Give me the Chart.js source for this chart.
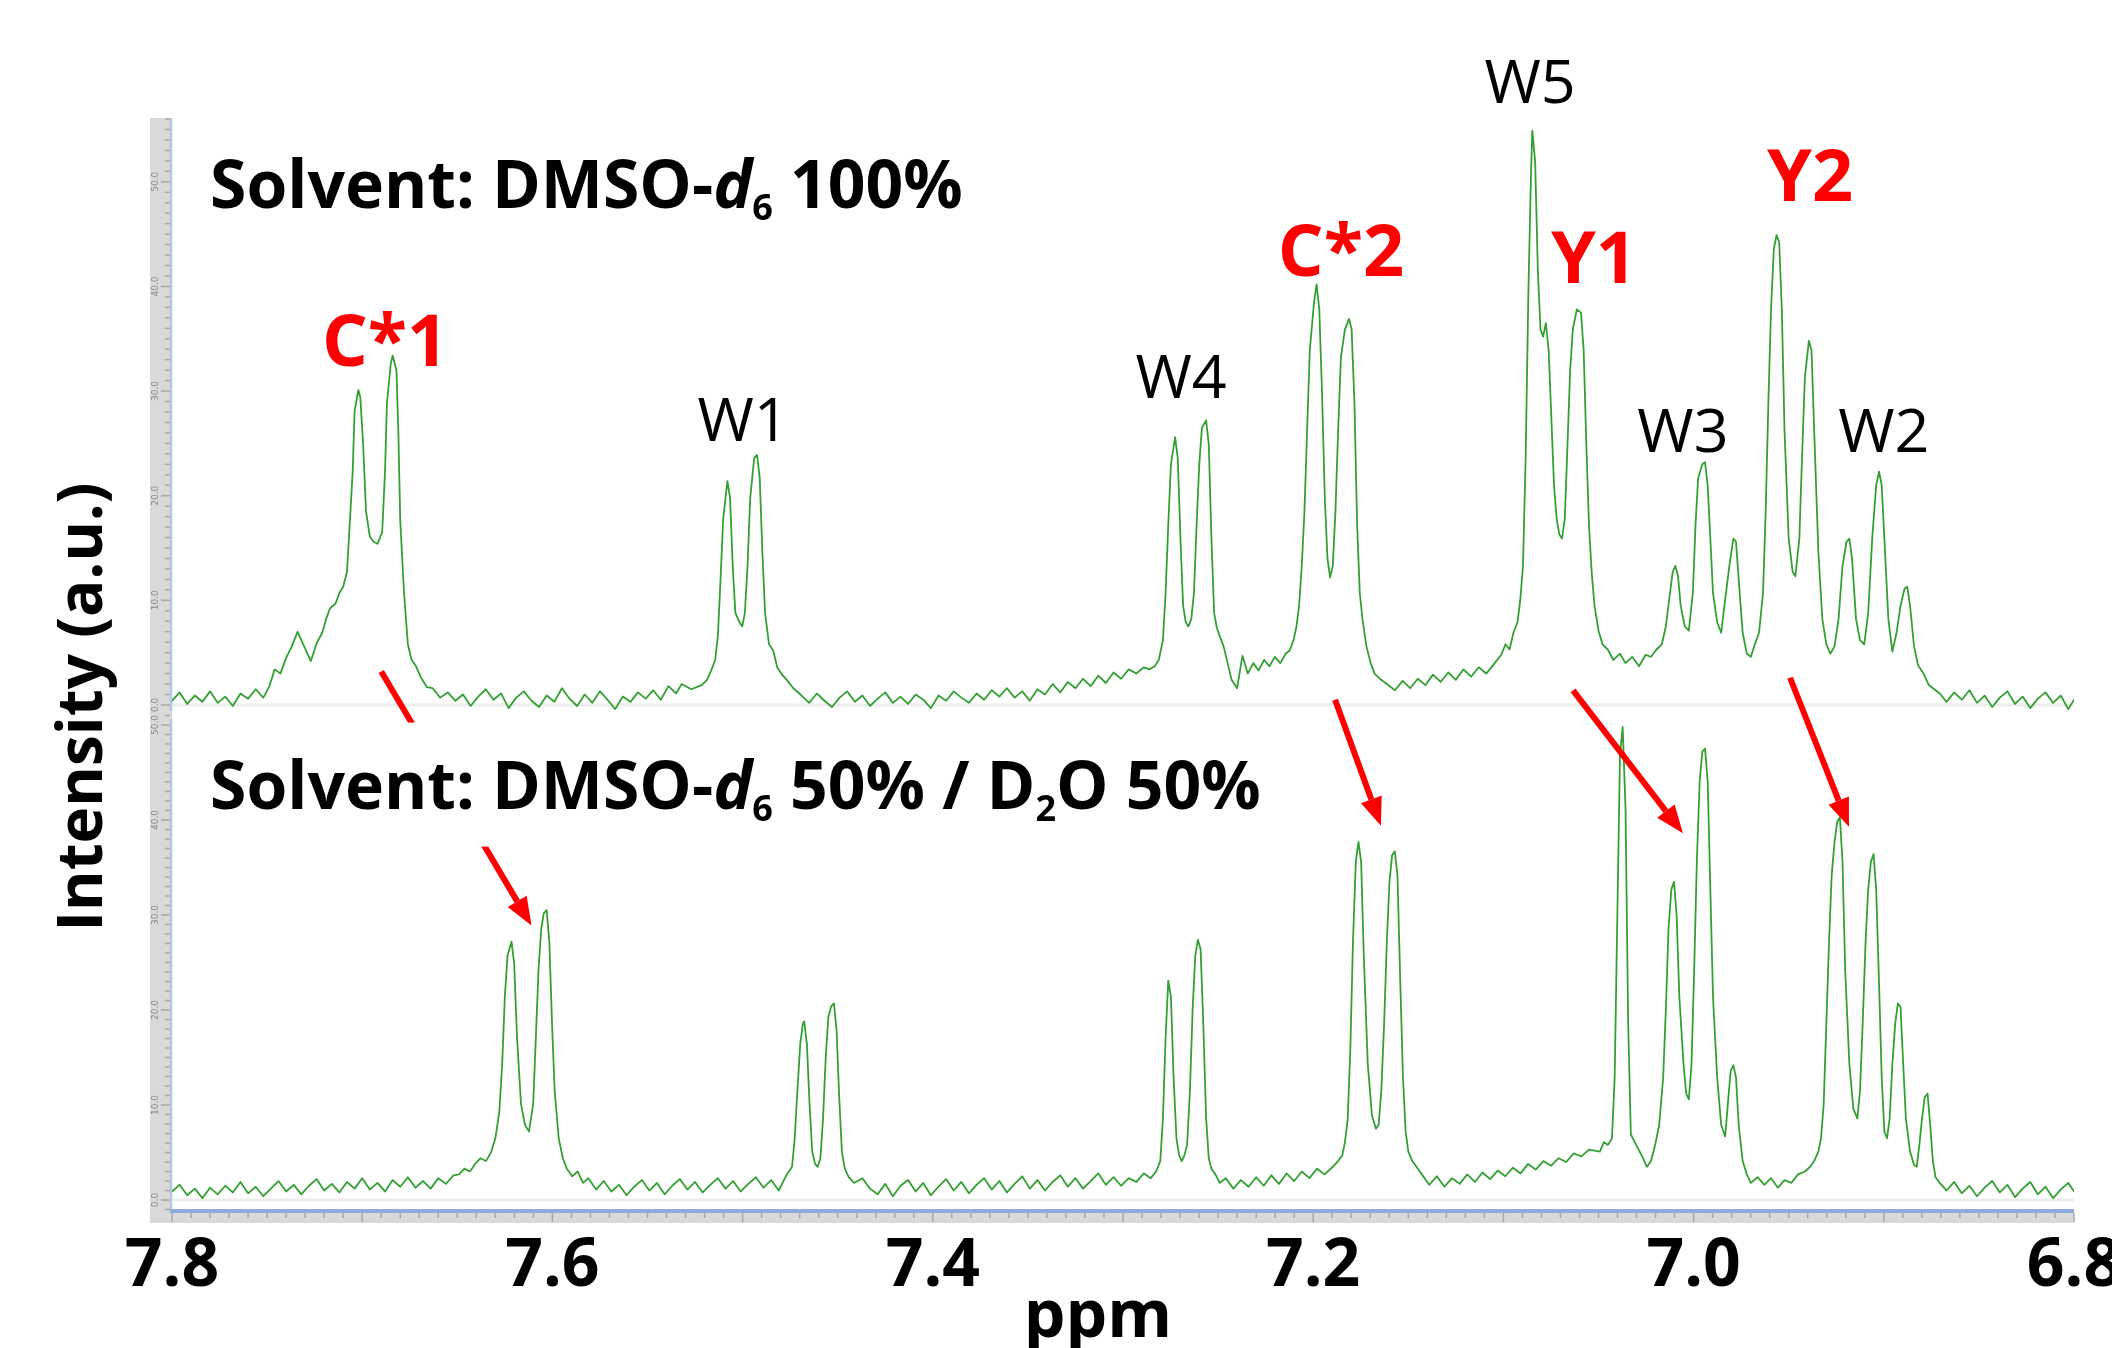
<!DOCTYPE html>
<html>
<head>
<meta charset="utf-8">
<title>NMR aromatic region</title>
<script src="https://cdn.jsdelivr.net/npm/chart.js@4.4.1/dist/chart.umd.min.js"></script>
<style>
  html, body { margin: 0; padding: 0; background: #fff; }
  canvas { display: block; }
</style>
</head>
<body>
<canvas id="nmrChart" width="2112" height="1348"></canvas>
<script>
// [chemical shift (ppm), intensity (a.u.)]
const upperSpectrum = [
  [7.800,0.4],[7.796,1.2],[7.792,0.1],[7.788,0.9],[7.784,0.3],[7.780,1.3],[7.776,0.2],[7.772,0.8],[7.768,-0.1],[7.764,1.1],[7.760,0.6],[7.756,1.5],[7.752,0.7],
  [7.749,1.7],[7.746,3.4],[7.743,3.0],[7.740,4.5],[7.737,5.6],[7.734,7.0],[7.731,5.8],[7.727,4.2],[7.725,5.3],[7.724,5.9],[7.721,6.9],[7.719,8.2],[7.717,9.2],[7.714,9.7],[7.712,10.7],[7.710,11.3],[7.708,12.7],
  [7.707,15.9],[7.705,22.3],[7.704,28.1],[7.702,30.1],[7.701,29.4],[7.6995,24.9],[7.698,18.5],[7.696,16.1],[7.694,15.6],[7.692,15.4],[7.6895,16.5],[7.688,22.3],[7.687,28.8],[7.685,32.6],[7.684,33.4],[7.682,32.0],[7.681,26.2],[7.680,17.6],[7.678,10.7],[7.676,5.8],[7.674,4.3],[7.672,3.8],[7.669,2.6],[7.666,1.7],[7.663,1.6],[7.659,0.7],
  [7.655,1.2],[7.651,0.4],[7.647,1.0],[7.643,-0.1],[7.639,0.8],[7.635,1.5],[7.631,0.5],[7.627,1.1],[7.623,-0.3],[7.619,0.7],[7.615,1.3],[7.611,0.4],[7.607,-0.2],[7.603,0.9],[7.599,0.3],[7.595,1.6],[7.591,0.6],[7.587,-0.1],[7.583,1.0],[7.579,0.2],[7.575,1.3],[7.571,0.5],[7.567,-0.4],[7.563,0.8],[7.559,0.3],[7.555,1.2],[7.551,0.6],[7.547,1.4],[7.543,0.5],[7.539,1.8],[7.535,1.1],[7.532,2.0],[7.527,1.5],
  [7.5215,1.9],[7.5187,2.4],[7.5165,3.3],[7.5144,4.3],[7.5130,6.6],[7.5116,12.0],[7.5102,17.8],[7.5080,21.4],[7.5066,19.8],[7.5052,13.3],[7.5038,8.8],[7.5016,7.9],[7.5002,7.5],[7.4988,8.8],[7.4974,13.3],[7.4960,19.8],[7.4939,23.6],[7.4924,23.9],[7.4910,21.7],[7.4896,14.6],[7.4882,8.8],[7.4861,5.8],[7.4839,5.2],[7.4818,3.6],[7.4797,3.0],[7.4768,2.4],[7.4733,1.6],
  [7.469,0.9],[7.465,0.2],[7.461,1.1],[7.457,0.4],[7.453,-0.2],[7.449,0.7],[7.445,1.3],[7.441,0.3],[7.437,0.9],[7.433,-0.1],[7.429,0.6],[7.425,1.2],[7.421,0.2],[7.417,0.8],[7.413,0.1],[7.409,1.0],[7.405,0.5],[7.401,-0.3],[7.397,0.9],[7.393,0.4],[7.389,1.3],[7.385,0.7],[7.381,0.2],[7.377,1.1],[7.373,0.5],[7.369,1.4],[7.365,0.8],[7.361,1.6],[7.357,0.7],[7.353,1.3],[7.349,0.4],[7.345,1.5],[7.341,1.0],[7.337,2.0],[7.333,1.2],[7.329,2.2],[7.325,1.6],[7.321,2.5],[7.317,1.8],[7.313,2.8],[7.309,2.1],[7.305,3.1],[7.301,2.5],[7.297,3.4],[7.293,3.0],[7.289,3.6],
  [7.2861,3.4],[7.2833,3.7],[7.2812,4.3],[7.2790,6.2],[7.2776,10.7],[7.2762,17.2],[7.2748,23.0],[7.2726,25.6],[7.2712,23.6],[7.2698,15.9],[7.2684,9.5],[7.2670,7.9],[7.2656,7.5],[7.2641,8.2],[7.2627,10.7],[7.2613,17.2],[7.2599,23.0],[7.2585,26.5],[7.2563,27.2],[7.2549,24.9],[7.2535,15.9],[7.2521,8.8],[7.2507,7.4],[7.2492,6.6],[7.2471,5.6],[7.2450,4.0],[7.2429,2.4],[7.2400,1.6],[7.2372,4.7],[7.2344,3.0],[7.2315,4.0],[7.2287,3.3],[7.2258,4.3],[7.2230,3.7],[7.2202,4.6],[7.2173,4.0],[7.2145,4.9],[7.2124,5.2],[7.2103,6.2],[7.2088,7.5],[7.2074,9.5],[7.2060,13.3],[7.2046,18.5],[7.2032,26.2],[7.2018,33.9],[7.1996,38.4],[7.1982,40.2],[7.1968,37.8],[7.1954,30.1],[7.1939,19.8],[7.1925,14.0],[7.1911,12.2],[7.1897,13.3],[7.1883,18.5],[7.1869,26.2],[7.1854,33.3],[7.1833,35.9],[7.1812,36.9],[7.1798,35.9],[7.1783,28.8],[7.1769,17.2],[7.1755,10.7],[7.1741,8.2],[7.1720,5.6],[7.1698,4.0],[7.1677,3.0],[7.1649,2.5],[7.1613,2.0],
  [7.157,1.4],[7.153,2.3],[7.149,1.6],[7.145,2.5],[7.141,1.9],[7.137,2.9],[7.133,2.2],[7.129,3.1],[7.125,2.4],[7.121,3.4],[7.117,2.7],[7.113,3.6],[7.109,3.0],[7.105,3.9],
  [7.1011,4.8],[7.0989,5.8],[7.0968,5.3],[7.0947,6.9],[7.0926,7.9],[7.0911,10.1],[7.0897,13.3],[7.0883,23.6],[7.0869,39.1],[7.0855,50.7],[7.0848,54.9],[7.0833,51.9],[7.0819,41.6],[7.0805,35.9],[7.0791,35.2],[7.0777,36.5],[7.0762,33.9],[7.0748,27.5],[7.0734,21.0],[7.0720,17.8],[7.0706,16.3],[7.0692,15.9],[7.0677,17.8],[7.0663,24.9],[7.0649,32.0],[7.0635,35.9],[7.0614,37.8],[7.0592,37.5],[7.0578,33.9],[7.0564,24.9],[7.0550,17.2],[7.0536,12.7],[7.0521,9.5],[7.0500,7.1],[7.0479,5.8],[7.0451,5.3],[7.0422,4.3],[7.0387,4.9],[7.0358,4.0],[7.0323,4.6],[7.0287,3.7],[7.0252,4.8],[7.0224,4.6],[7.0195,5.3],[7.0167,5.8],
  [7.0146,7.5],[7.0124,10.7],[7.0110,12.7],[7.0096,13.3],[7.0082,12.3],[7.0068,9.5],[7.0046,7.5],[7.0025,7.1],[7.0004,10.7],[6.9990,17.2],[6.9976,21.7],[6.9954,23.0],[6.9940,23.2],[6.9926,21.0],[6.9912,15.9],[6.9898,10.7],[6.9876,7.9],[6.9855,6.9],[6.9834,10.1],[6.9812,13.3],[6.9791,15.9],[6.9777,15.6],[6.9763,12.0],[6.9742,6.9],[6.9720,4.9],[6.9699,4.6],[6.9678,5.8],[6.9656,6.9],
  [6.9635,10.7],[6.9621,18.5],[6.9607,28.8],[6.9593,37.8],[6.9578,43.6],[6.9564,44.9],[6.9550,44.2],[6.9536,37.8],[6.9522,26.2],[6.9500,15.9],[6.9479,12.7],[6.9465,12.3],[6.9444,15.9],[6.9430,23.6],[6.9415,31.3],[6.9394,34.8],[6.9380,33.9],[6.9366,26.2],[6.9344,14.6],[6.9323,8.2],[6.9302,5.8],[6.9281,4.9],[6.9259,5.6],[6.9238,8.2],
  [6.9217,13.3],[6.9196,15.6],[6.9181,15.9],[6.9167,14.0],[6.9146,8.2],[6.9125,6.2],[6.9103,5.8],[6.9082,8.8],[6.9061,15.9],[6.9040,21.0],[6.9025,22.3],[6.9011,21.0],[6.8997,15.9],[6.8976,8.2],[6.8955,5.1],[6.8933,6.9],[6.8912,9.5],[6.8891,11.1],[6.8877,11.3],[6.8862,9.5],[6.8841,5.6],[6.8820,3.8],[6.8791,3.0],[6.8763,1.9],[6.8735,1.5],[6.8706,1.1],
  [6.867,0.3],[6.863,1.2],[6.859,0.5],[6.855,1.4],[6.851,0.2],[6.847,0.9],[6.843,-0.2],[6.839,0.7],[6.835,1.3],[6.831,0.1],[6.827,0.8],[6.823,-0.3],[6.819,0.6],[6.815,1.2],[6.811,0.2],[6.807,0.9],[6.803,-0.4],[6.800,0.5]
];

const lowerSpectrum = [
  [7.800,0.9],[7.796,1.6],[7.792,0.5],[7.788,1.2],[7.784,0.2],[7.780,1.3],[7.776,0.6],[7.772,1.5],[7.768,0.8],[7.764,1.9],[7.760,0.7],[7.756,1.4],[7.752,0.4],[7.748,1.2],[7.744,2.0],[7.740,0.9],[7.736,1.6],[7.732,0.6],[7.728,1.5],[7.724,2.2],[7.720,1.0],[7.716,1.7],[7.712,0.8],[7.708,1.9],[7.704,1.2],[7.700,2.3],[7.696,1.1],[7.692,1.8],[7.688,0.9],[7.684,2.1],[7.680,1.4],[7.676,2.4],[7.672,1.3],[7.668,2.0],[7.664,1.2],[7.660,2.3],[7.656,1.7],[7.652,2.6],
  [7.6491,2.7],[7.6463,3.3],[7.6434,3.0],[7.6406,3.8],[7.6378,4.4],[7.6349,4.1],[7.6321,5.1],[7.6300,6.5],[7.6279,9.3],[7.6264,14.3],[7.6250,21.4],[7.6236,25.7],[7.6215,27.2],[7.6201,24.9],[7.6186,17.1],[7.6165,10.1],[7.6144,7.9],[7.6123,7.2],[7.6101,10.1],[7.6087,17.1],[7.6073,24.2],[7.6059,28.5],[7.6045,30.2],[7.6030,30.5],[7.6016,27.1],[7.6002,18.6],[7.5988,11.5],[7.5967,6.5],[7.5945,4.4],[7.5924,3.3],[7.5896,2.5],[7.5867,3.0],[7.5839,1.8],[7.5811,2.3],
  [7.577,1.1],[7.573,2.0],[7.569,0.9],[7.565,1.6],[7.561,0.5],[7.557,1.4],[7.553,2.1],[7.549,1.0],[7.545,1.8],[7.541,0.6],[7.537,1.5],[7.533,2.2],[7.529,1.1],[7.525,1.9],[7.521,0.8],[7.517,1.6],[7.513,2.3],[7.509,1.2],[7.505,2.0],[7.501,0.9],[7.497,1.7],[7.493,2.4],[7.489,1.3],[7.485,2.1],[7.481,1.0],[7.477,2.6],
  [7.4740,3.5],[7.4726,6.5],[7.4712,11.5],[7.4697,16.4],[7.4683,18.6],[7.4676,18.8],[7.4662,16.4],[7.4648,10.1],[7.4634,5.1],[7.4619,3.8],[7.4605,3.5],[7.4591,4.4],[7.4577,8.6],[7.4563,15.0],[7.4549,19.3],[7.4534,20.4],[7.4520,20.7],[7.4506,17.9],[7.4492,10.8],[7.4478,5.1],[7.4463,3.3],[7.4442,2.4],[7.4414,1.8],
  [7.437,2.3],[7.433,1.2],[7.429,0.6],[7.425,1.7],[7.421,0.4],[7.417,1.5],[7.413,2.1],[7.409,0.9],[7.405,1.8],[7.401,0.5],[7.397,1.4],[7.393,2.2],[7.389,1.0],[7.385,1.9],[7.381,0.7],[7.377,1.6],[7.373,2.3],[7.369,1.1],[7.365,2.0],[7.361,0.8],[7.357,1.7],[7.353,2.5],[7.349,1.2],[7.345,2.1],[7.341,1.0],[7.337,1.9],[7.333,2.6],[7.329,1.4],[7.325,2.3],[7.321,1.2],[7.317,2.0],[7.313,2.8],[7.309,1.6],[7.305,2.4],[7.301,1.5],[7.297,2.3],[7.293,1.9],[7.289,2.8],
  [7.2854,2.3],[7.2826,3.0],[7.2804,4.1],[7.2790,8.6],[7.2776,17.1],[7.2762,23.1],[7.2748,21.4],[7.2734,12.9],[7.2719,6.5],[7.2705,4.7],[7.2691,4.1],[7.2677,4.7],[7.2663,5.8],[7.2648,11.5],[7.2634,20.0],[7.2620,25.7],[7.2606,27.4],[7.2592,26.4],[7.2578,18.6],[7.2563,8.6],[7.2549,4.4],[7.2535,3.3],[7.2514,2.7],[7.2492,1.8],
  [7.246,2.3],[7.242,1.2],[7.238,2.1],[7.234,1.4],[7.230,2.4],[7.226,1.5],[7.222,2.6],[7.218,1.7],[7.214,2.8],[7.210,2.0],[7.206,3.0],[7.202,2.3],[7.198,3.3],[7.194,2.7],
  [7.1897,3.5],[7.1869,4.1],[7.1847,4.7],[7.1833,6.1],[7.1819,8.4],[7.1805,15.7],[7.1791,27.1],[7.1776,35.6],[7.1762,37.7],[7.1748,35.6],[7.1734,25.7],[7.1713,14.3],[7.1691,8.9],[7.1670,7.5],[7.1656,7.9],[7.1642,11.5],[7.1627,18.6],[7.1613,27.1],[7.1599,33.5],[7.1585,36.3],[7.1571,36.7],[7.1557,34.2],[7.1542,22.8],[7.1528,12.9],[7.1514,7.2],[7.1500,5.1],[7.1479,4.1],[7.1457,3.5],[7.1429,2.7],
  [7.139,1.6],[7.135,2.5],[7.131,1.4],[7.127,2.3],[7.123,1.7],[7.119,2.7],[7.115,1.9],[7.111,2.9],[7.107,2.2],[7.103,3.1],[7.099,2.5],[7.095,3.4],[7.091,2.8],[7.087,3.8],[7.083,3.2],[7.079,4.1],[7.075,3.6],[7.071,4.4],[7.067,4.0],[7.063,4.9],[7.059,4.6],[7.055,5.3],
  [7.0493,5.1],[7.0472,6.1],[7.0451,5.8],[7.0429,6.5],[7.0415,12.9],[7.0401,29.9],[7.0387,46.9],[7.0373,49.8],[7.0358,41.3],[7.0344,18.6],[7.0330,6.9],[7.0302,5.8],[7.0273,4.7],[7.0245,3.5],[7.0224,4.1],[7.0202,5.8],[7.0181,7.9],[7.0160,12.9],[7.0146,20.0],[7.0132,28.5],[7.0117,32.7],[7.0103,33.5],[7.0089,29.9],[7.0075,21.4],[7.0053,14.3],[7.0039,11.2],[7.0025,10.6],[7.0011,14.3],[6.9997,24.2],[6.9983,35.6],[6.9968,44.1],[6.9954,47.2],[6.9940,47.5],[6.9926,44.1],[6.9912,32.7],[6.9898,21.4],[6.9876,12.9],[6.9855,7.9],[6.9834,6.7],[6.9820,10.1],[6.9805,13.6],[6.9791,14.2],[6.9777,12.9],[6.9763,7.9],[6.9742,4.1],[6.9720,2.7],[6.9699,1.8],
  [6.9664,2.4],[6.9628,1.6],[6.9593,2.3],[6.9557,1.3],[6.9522,2.1],[6.9486,1.8],[6.9451,2.7],[6.9415,3.0],[6.9387,3.5],[6.9366,4.1],[6.9344,5.1],[6.9330,6.5],[6.9316,10.1],[6.9302,18.6],[6.9288,27.1],[6.9274,34.2],[6.9259,37.7],[6.9245,39.8],[6.9231,40.3],[6.9217,35.6],[6.9203,24.2],[6.9181,14.3],[6.9160,9.6],[6.9139,8.6],[6.9125,11.5],[6.9111,18.6],[6.9096,27.1],[6.9082,32.7],[6.9068,35.6],[6.9054,36.4],[6.9040,32.7],[6.9025,22.8],[6.9011,12.9],[6.8997,7.2],[6.8983,6.5],[6.8969,8.6],[6.8955,14.3],[6.8940,18.6],[6.8926,20.7],[6.8912,20.3],[6.8898,14.3],[6.8884,8.6],[6.8862,5.1],[6.8841,3.7],[6.8827,3.5],[6.8813,5.8],[6.8799,8.6],[6.8785,10.8],[6.8770,11.2],[6.8756,7.9],[6.8742,4.1],[6.8728,2.4],[6.8706,1.8],
  [6.867,1.0],[6.863,1.9],[6.859,0.7],[6.855,1.5],[6.851,0.4],[6.847,1.3],[6.843,2.0],[6.839,0.8],[6.835,1.6],[6.831,0.3],[6.827,1.2],[6.823,1.9],[6.819,0.6],[6.815,1.4],[6.811,0.2],[6.807,1.1],[6.803,1.8],[6.800,0.9]
];

const shiftRange = [6.8, 7.8];
const upperRange = [-0.96, 56.1];
const lowerRange = [-1.05, 51.05];

// peak names over the upper trace: [text, ppm, intensity, red]
const peakLabels = [
  ['C*1', 7.688, 32.4, true],
  ['C*2', 7.1854, 41.0, true],
  ['Y1', 7.0524, 40.3, true],
  ['Y2', 6.9388, 48.2, true],
  ['W1', 7.4998, 25.2, false],
  ['W4', 7.2695, 29.3, false],
  ['W5', 7.086, 57.5, false],
  ['W3', 7.0056, 24.2, false],
  ['W2', 6.900, 24.2, false]
];

// shift arrows: [ppm, intensity] on upper trace -> [ppm, intensity] on lower trace
const shiftArrows = [
  [7.690, 3.2, 7.611, 28.9],
  [7.1885, 0.5, 7.1644, 39.4],
  [7.0634, 1.4, 7.0056, 38.6],
  [6.9493, 2.6, 6.9183, 39.3]
];

const upperSolvent = [['Solvent: DMSO-', 'n'], ['d', 'i'], ['6', 's'], [' 100%', 'n']];
const lowerSolvent = [['Solvent: DMSO-', 'n'], ['d', 'i'], ['6', 's'], [' 50% / D', 'n'], ['2', 's'], ['O 50%', 'n']];

const traceColor = '#34a034';
const FONT = "'Open Sans', 'DejaVu Sans', sans-serif";

function drawRich(ctx, x, y, parts, boxed) {
  const fonts = { n: 'bold 66px ' + FONT, i: 'italic bold 66px ' + FONT, s: 'bold 36px ' + FONT };
  let w = 0;
  parts.forEach(([t, k]) => { ctx.font = fonts[k]; w += ctx.measureText(t).width; });
  if (boxed) {
    // text box hides the arrow behind it, like the original slide
    ctx.fillStyle = '#ffffff';
    ctx.fillRect(x - 12, y - 86, w + 24, 124);
  }
  ctx.fillStyle = '#000000';
  ctx.textAlign = 'left';
  ctx.textBaseline = 'alphabetic';
  let cx = x;
  parts.forEach(([t, k]) => {
    ctx.font = fonts[k];
    ctx.fillText(t, cx, k === 's' ? y + 12 : y);
    cx += ctx.measureText(t).width;
  });
}

function drawArrow(ctx, x0, y0, x1, y1) {
  const ang = Math.atan2(y1 - y0, x1 - x0);
  const head = 28, half = 11;
  const bx = x1 - head * Math.cos(ang), by = y1 - head * Math.sin(ang);
  ctx.strokeStyle = '#ff0000';
  ctx.fillStyle = '#ff0000';
  ctx.lineWidth = 6;
  ctx.lineCap = 'butt';
  ctx.beginPath();
  ctx.moveTo(x0, y0);
  ctx.lineTo(bx, by);
  ctx.stroke();
  ctx.beginPath();
  ctx.moveTo(x1, y1);
  ctx.lineTo(bx + half * Math.sin(ang), by - half * Math.cos(ang));
  ctx.lineTo(bx - half * Math.sin(ang), by + half * Math.cos(ang));
  ctx.closePath();
  ctx.fill();
}

const spectrumFrame = {
  id: 'spectrumFrame',
  beforeDraw(chart) {
    const { ctx, chartArea: a } = chart;
    const xs = chart.scales.x;
    ctx.save();
    ctx.fillStyle = '#ffffff';
    ctx.fillRect(0, 0, chart.width, chart.height);

    // grey axis strips
    ctx.fillStyle = '#d9d9d9';
    ctx.fillRect(a.left - 22, a.top, 22, a.bottom - a.top + 13);
    ctx.fillRect(a.left - 22, a.bottom, a.right - a.left + 22, 13);

    ctx.strokeStyle = '#a8a8a8';
    ctx.lineWidth = 1.5;
    for (let i = 0; i <= 100; i++) {
      const px = xs.getPixelForValue(shiftRange[0] + i / 100);
      ctx.beginPath();
      ctx.moveTo(px, a.bottom + 3);
      ctx.lineTo(px, a.bottom + (i % 10 === 0 ? 12 : 8));
      ctx.stroke();
    }

    [chart.scales.yUpper, chart.scales.yLower].forEach(s => {
      for (let v = Math.ceil(s.min); v <= s.max; v++) {
        const py = s.getPixelForValue(v);
        ctx.strokeStyle = '#a8a8a8';
        ctx.lineWidth = 1.5;
        ctx.beginPath();
        ctx.moveTo(a.left - (v % 10 === 0 ? 11 : 7), py);
        ctx.lineTo(a.left - 2, py);
        ctx.stroke();
        if (v % 10 === 0) {
          ctx.save();
          ctx.translate(a.left - 16, py);
          ctx.rotate(-Math.PI / 2);
          ctx.font = '9px "DejaVu Sans"';
          ctx.fillStyle = '#8a8a8a';
          ctx.textAlign = 'center';
          ctx.textBaseline = 'middle';
          ctx.fillText(Math.abs(v).toFixed(1), 0, 0);
          ctx.restore();
        }
      }
    });
    ctx.restore();
  },
  beforeDatasetsDraw(chart) {
    const { ctx, chartArea: a } = chart;
    const yu = chart.scales.yUpper, yl = chart.scales.yLower;
    ctx.save();
    // zero lines of both traces
    ctx.strokeStyle = '#ededed';
    ctx.lineWidth = 3;
    [yu, yl].forEach(s => {
      const py = s.getPixelForValue(0);
      ctx.beginPath();
      ctx.moveTo(a.left, py);
      ctx.lineTo(a.right, py);
      ctx.stroke();
    });
    // blue axis lines
    ctx.strokeStyle = '#b4c7e7';
    ctx.lineWidth = 2.5;
    ctx.beginPath();
    ctx.moveTo(a.left - 1, yu.top);
    ctx.lineTo(a.left - 1, yu.bottom - 4);
    ctx.moveTo(a.left - 1, yl.top + 4);
    ctx.lineTo(a.left - 1, yl.bottom);
    ctx.stroke();
    ctx.strokeStyle = '#8faadc';
    ctx.lineWidth = 4;
    ctx.beginPath();
    ctx.moveTo(a.left - 2, a.bottom + 1);
    ctx.lineTo(a.right, a.bottom + 1);
    ctx.stroke();
    ctx.restore();
  },
  afterDraw(chart) {
    const { ctx } = chart;
    const xs = chart.scales.x, yu = chart.scales.yUpper, yl = chart.scales.yLower;
    ctx.save();

    shiftArrows.forEach(([p0, i0, p1, i1]) => {
      drawArrow(ctx, xs.getPixelForValue(p0), yu.getPixelForValue(i0), xs.getPixelForValue(p1), yl.getPixelForValue(i1));
    });

    drawRich(ctx, xs.getPixelForValue(7.780), yu.getPixelForValue(47.5), upperSolvent, false);
    drawRich(ctx, xs.getPixelForValue(7.780), yl.getPixelForValue(41.2), lowerSolvent, true);

    ctx.textAlign = 'center';
    ctx.textBaseline = 'alphabetic';
    peakLabels.forEach(([t, p, v, red]) => {
      ctx.font = red ? 'bold 72px ' + FONT : '61px ' + FONT;
      ctx.fillStyle = red ? '#ff0000' : '#000000';
      ctx.fillText(t, xs.getPixelForValue(p), yu.getPixelForValue(v));
    });

    // axis titles
    ctx.fillStyle = '#000000';
    ctx.font = 'bold 66px ' + FONT;
    ctx.fillText('ppm', 1098, 1337);
    ctx.save();
    ctx.translate(102, 707);
    ctx.rotate(-Math.PI / 2);
    ctx.font = 'bold 62px ' + FONT;
    ctx.fillText('Intensity (a.u.)', 0, 0);
    ctx.restore();

    ctx.restore();
  }
};

const toPoints = arr => arr.map(p => ({ x: p[0], y: p[1] }));

const nmrChart = new Chart(document.getElementById('nmrChart'), {
  type: 'scatter',
  data: {
    datasets: [
      {
        label: 'DMSO-d6 100%',
        data: toPoints(upperSpectrum),
        yAxisID: 'yUpper',
        showLine: true,
        borderColor: traceColor,
        borderWidth: 1.8,
        borderJoinStyle: 'round',
        pointRadius: 0,
        tension: 0
      },
      {
        label: 'DMSO-d6 50% / D2O 50%',
        data: toPoints(lowerSpectrum),
        yAxisID: 'yLower',
        showLine: true,
        borderColor: traceColor,
        borderWidth: 1.8,
        borderJoinStyle: 'round',
        pointRadius: 0,
        tension: 0
      }
    ]
  },
  options: {
    responsive: false,
    animation: false,
    devicePixelRatio: 1,
    layout: { padding: { left: 150, right: 38, top: 118, bottom: 0 } },
    plugins: {
      legend: { display: false },
      tooltip: { enabled: false }
    },
    scales: {
      x: {
        type: 'linear',
        reverse: true,
        min: shiftRange[0],
        max: shiftRange[1],
        grid: { display: false, drawTicks: false },
        border: { display: false },
        ticks: {
          stepSize: 0.2,
          autoSkip: false,
          maxRotation: 0,
          padding: 18,
          color: '#000000',
          font: { family: FONT, size: 66, weight: 'bold' },
          callback: v => Number(v).toFixed(1)
        },
        afterFit: s => { s.height = 138; s.paddingLeft = 0; s.paddingRight = 0; }
      },
      yLower: {
        type: 'linear',
        position: 'left',
        stack: 'nmr',
        stackWeight: 495,
        min: lowerRange[0],
        max: lowerRange[1],
        ticks: { display: false },
        grid: { display: false, drawTicks: false },
        border: { display: false },
        afterFit: s => { s.width = 22; }
      },
      yUpper: {
        type: 'linear',
        position: 'left',
        stack: 'nmr',
        stackWeight: 597,
        min: upperRange[0],
        max: upperRange[1],
        ticks: { display: false },
        grid: { display: false, drawTicks: false },
        border: { display: false },
        afterFit: s => { s.width = 22; }
      }
    }
  },
  plugins: [spectrumFrame]
});
</script>
</body>
</html>
